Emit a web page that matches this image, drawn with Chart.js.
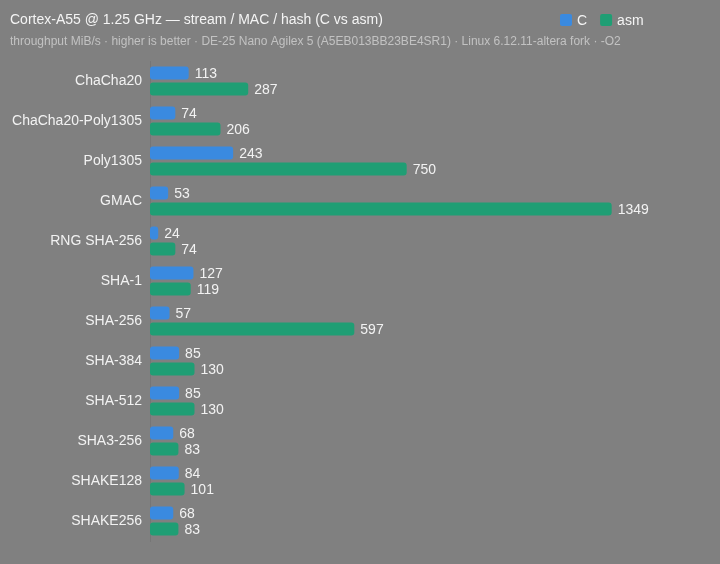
<!DOCTYPE html>
<html><head><meta charset="utf-8">
<script src="https://cdn.jsdelivr.net/npm/chart.js@4/dist/chart.umd.min.js"></script>
<style>html,body{margin:0;padding:0;background:#808080;}#wrap{width:720px;height:564px;}</style>
</head><body><div id="wrap"><canvas id="c"></canvas></div>
<script>
const categories = ["ChaCha20","ChaCha20-Poly1305","Poly1305","GMAC","RNG SHA-256","SHA-1","SHA-256","SHA-384","SHA-512","SHA3-256","SHAKE128","SHAKE256"];
const seriesC = [113,74,243,53,24,127,57,85,85,68,84,68];
const seriesAsm = [287,206,750,1349,74,119,597,130,130,83,101,83];
const seriesNames = ["C","asm"];
const titleText = "Cortex-A55 @ 1.25 GHz — stream / MAC / hash (C vs asm)";
const subtitleText = "throughput MiB/s · higher is better · DE-25 Nano Agilex 5 (A5EB013BB23BE4SR1) · Linux 6.12.11-altera fork · -O2";
const colors = ["#3a8ae0","#1f9e74"];
const FONT = "'Liberation Sans', Arial, Helvetica, sans-serif";

const headerPlugin = {
  id: 'header',
  afterDraw(chart) {
    const ctx = chart.ctx;
    ctx.save();
    ctx.textBaseline = 'alphabetic';
    ctx.textAlign = 'left';
    ctx.fillStyle = '#f4f4f4';
    ctx.font = '14px ' + FONT;
    ctx.fillText(titleText, 10, 24);
    ctx.fillStyle = '#c2c2c2';
    ctx.font = '12px ' + FONT;
    ctx.fillText(subtitleText, 10, 45);
    // legend
    ctx.font = '14px ' + FONT;
    let x = 560;
    seriesNames.forEach((n, i) => {
      ctx.fillStyle = colors[i];
      ctx.beginPath();
      if (ctx.roundRect) ctx.roundRect(x, 14, 12, 12, 2); else ctx.rect(x, 14, 12, 12);
      ctx.fill();
      ctx.fillStyle = '#f4f4f4';
      ctx.fillText(n, x + 17, 25);
      x += 17 + ctx.measureText(n).width + 13;
    });
    ctx.restore();
  }
};

const labelPlugin = {
  id: 'vals',
  afterDatasetsDraw(chart) {
    const ctx = chart.ctx;
    ctx.save();
    ctx.font = '14px ' + FONT;
    ctx.fillStyle = '#f2f2f2';
    ctx.textAlign = 'left';
    ctx.textBaseline = 'middle';
    chart.data.datasets.forEach((ds, di) => {
      chart.getDatasetMeta(di).data.forEach((bar, i) => {
        ctx.fillText(String(ds.data[i]), bar.x + 6, bar.y + 1);
      });
    });
    ctx.restore();
  }
};

const maxVal = Math.max(...seriesC, ...seriesAsm) * 1.2;

new Chart(document.getElementById('c'), {
  type: 'bar',
  data: {
    labels: categories,
    datasets: [
      { label: seriesNames[0], data: seriesC, backgroundColor: colors[0], borderRadius: 3, borderSkipped: false, categoryPercentage: 0.8, barPercentage: 0.8 },
      { label: seriesNames[1], data: seriesAsm, backgroundColor: colors[1], borderRadius: 3, borderSkipped: false, categoryPercentage: 0.8, barPercentage: 0.8 }
    ]
  },
  options: {
    indexAxis: 'y',
    responsive: true,
    maintainAspectRatio: false,
    animation: false,
    layout: { padding: { top: 61, bottom: 23, left: 10, right: 16 } },
    plugins: { legend: { display: false }, title: { display: false }, tooltip: { enabled: false } },
    scales: {
      x: { display: false, min: 0, max: maxVal },
      y: {
        afterFit(s) { s.width = 140; },
        grid: { display: false, drawTicks: false },
        border: { display: true, color: 'rgba(0,0,0,0.08)' },
        ticks: { color: '#f2f2f2', font: { size: 14, family: FONT }, padding: 8 }
      }
    }
  },
  plugins: [headerPlugin, labelPlugin]
});
</script></body></html>
